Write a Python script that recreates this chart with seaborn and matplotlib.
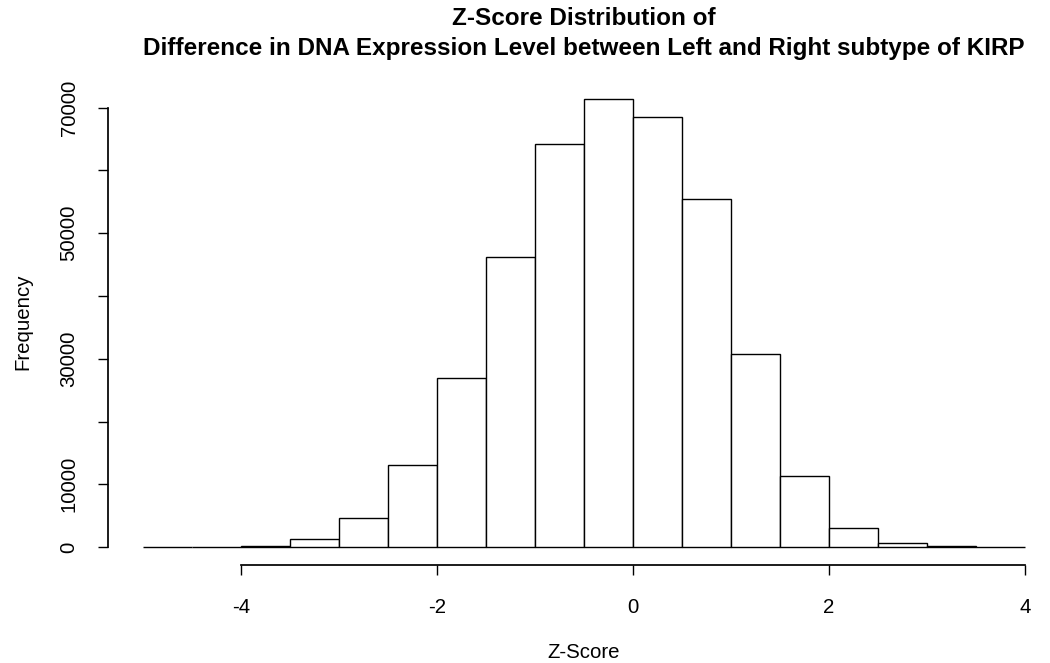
import numpy as np
import pandas as pd
import matplotlib
matplotlib.use('Agg')
import matplotlib.pyplot as plt
import seaborn as sns

# Limites das classes (largura 0.5) e frequências
bordas = [-5.0, -4.5, -4.0, -3.5, -3.0, -2.5, -2.0, -1.5, -1.0, -0.5,
          0.0, 0.5, 1.0, 1.5, 2.0, 2.5, 3.0, 3.5, 4.0]
frequencias = [0, 0, 250, 1250, 4700, 13000, 26900, 46200, 64200, 71400,
               68500, 55400, 30750, 11300, 3100, 690, 150, 40]
centros = [(a + b) / 2 for a, b in zip(bordas[:-1], bordas[1:])]

df_z = pd.DataFrame({'z': centros, 'freq': frequencias})

sns.set_theme(style = 'ticks')
plt.rcParams['font.family'] = ['Liberation Sans', 'DejaVu Sans']
plt.rcParams['axes.unicode_minus'] = False
plt.rcParams['text.color'] = 'black'

fig = plt.figure(figsize = (10.5, 6.63), dpi = 100)
ax = fig.add_axes([107.7 / 1050, 1 - 565 / 663, 952.6 / 1050, 484 / 663])

sns.histplot(data = df_z, x = 'z', weights = 'freq', bins = bordas,
             color = 'white', edgecolor = 'black', linewidth = 1,
             alpha = 1, ax = ax)

ax.set_xlim(-5.36, 4.36)
ax.set_ylim(-0.04 * 71400, 71400 * 1.04)

# Eixos no estilo do R
ax.set_xticks([-4, -2, 0, 2, 4])
ax.set_yticks(np.arange(0, 70001, 10000))
ax.set_yticklabels(['0', '10000', '', '30000', '', '50000', '', '70000'],
                   rotation = 90, va = 'center')
ax.tick_params(axis = 'both', length = 7, width = 1, color = 'black',
               labelsize = 14.7, labelcolor = 'black')
ax.tick_params(axis = 'x', pad = 17)
ax.tick_params(axis = 'y', pad = 14)
for s in ['top', 'right']:
    ax.spines[s].set_visible(False)
ax.spines['bottom'].set_bounds(-4, 4)
ax.spines['left'].set_bounds(0, 70000)
ax.spines['bottom'].set_color('black')
ax.spines['left'].set_color('black')
ax.set_xlabel('')
ax.set_ylabel('')

ax.set_title('Z-Score Distribution of\nDifference in DNA Expression Level between Left and Right subtype of KIRP',
             fontsize = 17.5, fontweight = 'bold', pad = 19, linespacing = 1.38,
             color = 'black')
fig.text(584 / 1050, 1 - 652 / 663, 'Z-Score', ha = 'center', va = 'center', fontsize = 14.7)
fig.text(23 / 1050, 1 - 322 / 663, 'Frequency', ha = 'center', va = 'center',
         rotation = 90, fontsize = 14.7)

plt.savefig('out.png', dpi = 100)
